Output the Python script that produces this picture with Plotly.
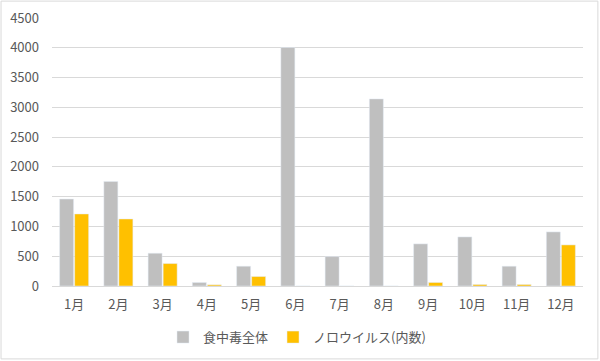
import plotly.graph_objects as go

months = ["1月", "2月", "3月", "4月", "5月", "6月", "7月", "8月", "9月", "10月", "11月", "12月"]
total = [1460, 1756, 550, 59, 332, 4005, 494, 3142, 707, 824, 332, 908]
norovirus = [1210, 1126, 377, 20, 159, 0, 0, 0, 59, 25, 25, 690]
name_total = "食中毒全体"
name_noro = "ノロウイルス(内数)"
y_ticks = [0, 500, 1000, 1500, 2000, 2500, 3000, 3500, 4000, 4500]

font_family = "Noto Sans CJK JP, Noto Sans, sans-serif"

fig = go.Figure()
fig.add_trace(go.Bar(x=months, y=total, name=name_total, marker_color="#BFBFBF"))
fig.add_trace(go.Bar(x=months, y=norovirus, name=name_noro, marker_color="#FFC000"))

fig.update_layout(
    width=600, height=361,
    margin=dict(l=52, r=17, t=18, b=75, autoexpand=False),
    paper_bgcolor="white", plot_bgcolor="white",
    barmode="group", bargap=0.32, bargroupgap=0.07,
    font=dict(family=font_family, size=13, color="#595959"),
    showlegend=True,
    legend=dict(orientation="h", x=0.495, xref="container", xanchor="center",
                y=0.066, yref="container", yanchor="middle",
                font=dict(size=13, color="#595959"), itemwidth=30, tracegroupgap=0),
    xaxis=dict(showgrid=False, showline=True, linecolor="#D9D9D9", linewidth=1,
               ticks="", ticklabelstandoff=6, tickfont=dict(size=13), automargin=False),
    yaxis=dict(range=[0, 4500], tickvals=y_ticks, showgrid=True, gridcolor="#D9D9D9",
               gridwidth=1, zeroline=False, showline=False, ticks="",
               ticklabelstandoff=12, tickfont=dict(size=13), automargin=False),
    shapes=[dict(type="rect", xref="paper", yref="paper",
                 x0=-0.096, x1=1.028, y0=-0.272, y1=1.063,
                 line=dict(color="#D9D9D9", width=1), fillcolor="rgba(0,0,0,0)", layer="below")],
)

fig.write_html("out.html", config={"displayModeBar": False},
               post_script="document.body.style.margin='0';")
